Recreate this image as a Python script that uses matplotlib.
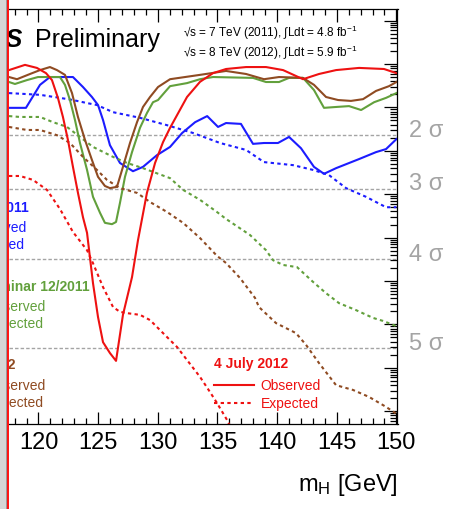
import numpy as np
import matplotlib
matplotlib.use("Agg")
import matplotlib.pyplot as plt
from matplotlib.ticker import LogLocator, MultipleLocator, NullFormatter
from matplotlib.patches import Rectangle
from matplotlib.lines import Line2D

plt.rcParams['font.family'] = ['Liberation Sans', 'DejaVu Sans']
plt.rcParams['mathtext.fontset'] = 'custom'
plt.rcParams['mathtext.rm'] = 'Liberation Sans'
plt.rcParams['mathtext.it'] = 'Liberation Sans:italic'
plt.rcParams['mathtext.bf'] = 'Liberation Sans:bold'

# hmotnosti [GeV] a log10(p0)

# 2011 (modra)
m_2011_obs = [117.53, 118.95, 120.13, 120.96, 122.89, 123.73, 124.48, 124.99, 125.41,
              125.99, 126.83, 127.92, 128.76, 129.93, 131.03, 132.04, 133.13, 134.14,
              135.05, 135.72, 136.97, 137.98, 138.90, 140.07, 141.0, 142.0, 143.09,
              143.93, 144.94, 146.87, 148.29, 149.13, 150.0]
lp_2011_obs = [-1.01, -1.01, -0.48, -0.30, -0.30, -0.53, -0.76, -0.945, -1.29,
               -1.87, -2.28, -2.47, -2.37, -2.10, -1.91, -1.59, -1.34, -1.20,
               -1.45, -1.36, -1.38, -1.84, -1.82, -1.82, -1.68, -1.94, -2.37,
               -2.53, -2.40, -2.19, -2.03, -1.96, -1.73]
m_2011_exp = [117.53, 120.13, 121.80, 122.89, 124.07, 124.90, 126.25, 128.51, 130.78,
              132.96, 135.22, 137.40, 138.90, 141.33, 143.01, 144.35, 145.78, 147.45,
              149.13, 150.0]
lp_2011_exp = [-0.67, -0.71, -0.78, -0.83, -0.90, -0.945, -1.11, -1.24, -1.41,
               -1.59, -1.82, -1.98, -2.26, -2.33, -2.44, -2.56, -2.86, -3.06,
               -3.30, -3.30]

# seminar 12/2011 (zelena)
m_dec_obs = [117.53, 118.03, 119.04, 119.96, 121.80, 122.22, 122.64, 123.06, 123.48,
             124.07, 124.57, 125.16, 125.57, 126.16, 126.50, 126.83, 127.25, 127.84,
             128.51, 129.09, 129.60, 130.02, 130.60, 131.03, 132.45, 133.54, 134.63,
             137.98, 139.07, 140.16, 141.0, 142.17, 143.09, 143.93, 144.94, 146.03,
             147.04, 148.13, 149.13, 150.0]
lp_dec_obs = [-0.415, -0.46, -0.37, -0.30, -0.30, -0.48, -0.83, -1.29, -1.82,
              -2.44, -3.06, -3.43, -3.66, -3.69, -3.64, -3.20, -2.60, -2.03,
              -1.47, -1.13, -0.88, -0.83, -0.645, -0.51, -0.44, -0.35, -0.30,
              -0.32, -0.415, -0.415, -0.32, -0.32, -0.60, -1.01, -0.99, -0.97,
              -1.06, -0.88, -0.78, -0.67]
m_dec_exp = [117.53, 118.45, 120.13, 121.22, 122.39, 123.48, 124.57, 126.25, 127.42,
             128.76, 131.03, 132.12, 133.54, 134.96, 135.72, 137.73, 139.07, 139.66,
             140.50, 141.67, 143.01, 144.10, 145.19, 146.61, 148.04, 148.88, 150.0]
lp_dec_exp = [-1.20, -1.22, -1.22, -1.34, -1.45, -1.68, -1.91, -2.14, -2.28,
              -2.40, -2.63, -2.90, -3.13, -3.41, -3.57, -3.94, -4.29, -4.52,
              -4.63, -4.68, -5.02, -5.28, -5.51, -5.67, -5.85, -5.92, -6.04]

# 2012 (hneda)
m_2012_obs = [117.53, 118.20, 119.29, 120.13, 120.96, 121.55, 122.22, 122.81, 123.31,
              123.90, 124.48, 124.99, 125.57, 125.99, 126.58, 127.08, 127.67, 128.26,
              128.76, 129.35, 130.02, 131.03, 133.54, 135.72, 137.40, 138.90, 140.16,
              142.17, 143.09, 144.10, 145.11, 146.19, 147.20, 148.29, 149.38, 150.0]
lp_2012_obs = [-0.30, -0.35, -0.23, -0.14, -0.07, -0.14, -0.25, -0.67, -1.22,
               -1.75, -2.21, -2.60, -2.81, -2.86, -2.83, -2.37, -1.82, -1.34,
               -0.99, -0.76, -0.53, -0.35, -0.25, -0.16, -0.23, -0.35, -0.30,
               -0.32, -0.48, -0.76, -0.83, -0.85, -0.81, -0.62, -0.51, -0.415]
m_2012_exp = [117.53, 119.04, 120.13, 121.55, 122.64, 123.73, 124.90, 125.74, 126.83,
              128.26, 129.35, 130.78, 132.12, 133.54, 134.96, 135.72, 136.89, 138.15,
              138.48, 139.91, 141.58, 142.42, 143.51, 144.94, 146.36, 147.70, 149.13,
              150.0]
lp_2012_exp = [-1.45, -1.52, -1.52, -1.64, -1.82, -2.14, -2.44, -2.67, -2.86,
               -2.97, -3.18, -3.41, -3.66, -4.01, -4.42, -4.585, -4.93, -5.39,
               -5.60, -5.97, -6.20, -6.47, -6.89, -7.40, -7.51, -7.67, -7.90,
               -8.06]

# 4 July 2012 (cervena)
m_jul_obs = [117.53, 118.87, 119.87, 120.63, 121.13, 121.63, 122.05, 122.47, 122.89,
             123.31, 123.73, 124.07, 124.57, 124.99, 125.41, 125.99, 126.50, 127.08,
             127.84, 128.34, 129.09, 129.77, 130.44, 131.03, 132.45, 133.54, 134.63,
             135.72, 137.40, 139.07, 140.50, 142.17, 143.51, 144.94, 146.87, 148.96,
             150.0]
lp_jul_obs = [-0.14, -0.02, -0.09, -0.21, -0.37, -0.78, -1.22, -1.75, -2.37,
              -2.97, -3.53, -3.89, -5.05, -5.83, -6.41, -6.66, -6.84, -5.78,
              -4.91, -4.06, -2.97, -2.28, -1.80, -1.47, -0.76, -0.41, -0.21,
              -0.115, -0.07, -0.07, -0.14, -0.35, -0.23, -0.14, -0.09, -0.115,
              -0.21]
m_jul_exp = [117.53, 118.45, 119.54, 120.71, 121.80, 122.89, 124.07, 124.57, 125.41,
             126.25, 126.83, 127.42, 128.51, 129.35, 130.44, 131.61, 132.45, 133.54,
             134.38, 134.96, 135.80, 136.47]
lp_jul_exp = [-2.58, -2.58, -2.67, -2.90, -3.34, -3.87, -4.29, -4.59, -5.14,
              -5.60, -5.71, -5.74, -5.78, -5.90, -6.20, -6.52, -6.82, -7.21,
              -7.56, -7.81, -8.20, -8.57]

sigma_n = [2, 3, 4, 5]
sigma_p0 = [2.275e-2, 1.35e-3, 3.17e-5, 2.87e-7]

modra = '#1c1cff'
zelena = '#62a03c'
hneda = '#8f4b22'
cervena = '#ee1111'
seda = '#a4a4a4'

W, H = 452, 509


def fx(x):
    return x / W


def fy(y):
    return 1 - y / H


fig = plt.figure(figsize=(W / 100, H / 100), dpi=100)
ax = fig.add_axes([fx(9), fy(423.5), (397.5 - 9) / W, (423.5 - 8.5) / H])

ls_exp = (0, (1.6, 1.6))
ax.plot(m_2011_obs, 10 ** np.array(lp_2011_obs), color=modra, lw=1.5)
ax.plot(m_2011_exp, 10 ** np.array(lp_2011_exp), color=modra, lw=1.5, ls=ls_exp)
ax.plot(m_dec_obs, 10 ** np.array(lp_dec_obs), color=zelena, lw=1.5)
ax.plot(m_dec_exp, 10 ** np.array(lp_dec_exp), color=zelena, lw=1.5, ls=ls_exp)
ax.plot(m_2012_obs, 10 ** np.array(lp_2012_obs), color=hneda, lw=1.5)
ax.plot(m_2012_exp, 10 ** np.array(lp_2012_exp), color=hneda, lw=1.5, ls=ls_exp)
cara_obs, = ax.plot(m_jul_obs, 10 ** np.array(lp_jul_obs), color=cervena, lw=1.5)
cara_exp, = ax.plot(m_jul_exp, 10 ** np.array(lp_jul_exp), color=cervena, lw=1.5, ls=ls_exp)

ax.set_yscale('log')
ax.set_xlim(117.53, 150.09)
ax.set_ylim(10 ** -8.283, 10 ** 1.279)

# sigma cary
for n, p in zip(sigma_n, sigma_p0):
    ax.axhline(p, color=seda, lw=1.0, ls=(0, (2.5, 1.5)), zorder=0.5)
    ax.annotate(f'{n} σ', xy=(1, p), xycoords=ax.get_yaxis_transform(),
                xytext=(8, 3), textcoords='offset points', va='center', ha='left',
                fontsize=17, color=seda, annotation_clip=False)

# osy
ax.spines['left'].set_visible(False)
for s in ['top', 'bottom', 'right']:
    ax.spines[s].set_linewidth(0.9)
ax.xaxis.set_major_locator(MultipleLocator(5))
ax.xaxis.set_minor_locator(MultipleLocator(1))
ax.yaxis.set_major_locator(LogLocator(base=10, numticks=50))
ax.yaxis.set_minor_locator(LogLocator(base=10, subs=np.arange(2, 10), numticks=50))
ax.yaxis.set_minor_formatter(NullFormatter())
ax.tick_params(axis='x', which='both', direction='in', top=True, bottom=True,
               labelsize=17, pad=6, width=0.9)
ax.tick_params(axis='x', which='major', length=9)
ax.tick_params(axis='x', which='minor', length=4.5)
ax.tick_params(axis='y', which='both', direction='in', left=False, right=True,
               labelleft=False, labelright=False, width=0.9)
ax.tick_params(axis='y', which='major', length=9.5)
ax.tick_params(axis='y', which='minor', length=5)

fig.text(fx(398), fy(485), r'm$_{\mathregular{H}}$ [GeV]', fontsize=17,
         ha='right', va='center')

# nadpis
fig.text(fx(23), fy(47), 'ATLAS', fontsize=18, fontweight='bold', fontstyle='italic',
         ha='right', va='baseline')
fig.text(fx(35), fy(47), 'Preliminary', fontsize=18, ha='left', va='baseline')
fig.text(fx(183), fy(37), '\u221As = 7 TeV (2011), \u222BLdt = 4.8 fb$^{-1}$',
         fontsize=8.5, ha='left', va='baseline')
fig.text(fx(183), fy(57), '\u221As = 8 TeV (2012), \u222BLdt = 5.9 fb$^{-1}$',
         fontsize=8.5, ha='left', va='baseline')

# useknute legendy vlevo
legendy = [
    ('Summer 2011', modra, 29, 208, 27, 228, 25, 245),
    ('CERN seminar 12/2011', zelena, 90, 287, 46, 307, 44, 324),
    ('Moriond 2012', hneda, 15, 365, 46, 386, 44, 403),
]
for titul, barva, xt, yt, xo, yo, xe, ye in legendy:
    ax.text(fx(xt), fy(yt), titul, transform=fig.transFigure, fontsize=10,
            fontweight='bold', color=barva, ha='right', va='center', clip_on=True)
    ax.text(fx(xo), fy(yo), 'Observed', transform=fig.transFigure, fontsize=10,
            color=barva, ha='right', va='center', clip_on=True)
    ax.text(fx(xe), fy(ye), 'Expected', transform=fig.transFigure, fontsize=10,
            color=barva, ha='right', va='center', clip_on=True)

leg = ax.legend([cara_obs, cara_exp], ['Observed', 'Expected'], title='4 July 2012',
                loc='upper left', bbox_to_anchor=(fx(214), fy(357)),
                bbox_transform=fig.transFigure, frameon=False, fontsize=10,
                borderpad=0, borderaxespad=0, handlelength=2.9, handletextpad=0.45,
                labelspacing=0.28, labelcolor='linecolor', alignment='left',
                title_fontproperties={'weight': 'bold', 'size': 10})
leg.get_title().set_color(cervena)
leg._legend_box.sep = 6

# okraj okna vlevo
fig.patches.append(Rectangle((0, 0), fx(7.5), 1, transform=fig.transFigure,
                             facecolor='#d6d6d6', edgecolor='none', zorder=10))
fig.patches.append(Rectangle((fx(6.5), 0), fx(1), 1, transform=fig.transFigure,
                             facecolor='#9a9a9a', edgecolor='none', zorder=11))
fig.lines.append(Line2D([fx(8), fx(8)], [0, 1], transform=fig.transFigure,
                        color='#ff0000', lw=1.3, zorder=12))

fig.savefig('out.png', dpi=100)
